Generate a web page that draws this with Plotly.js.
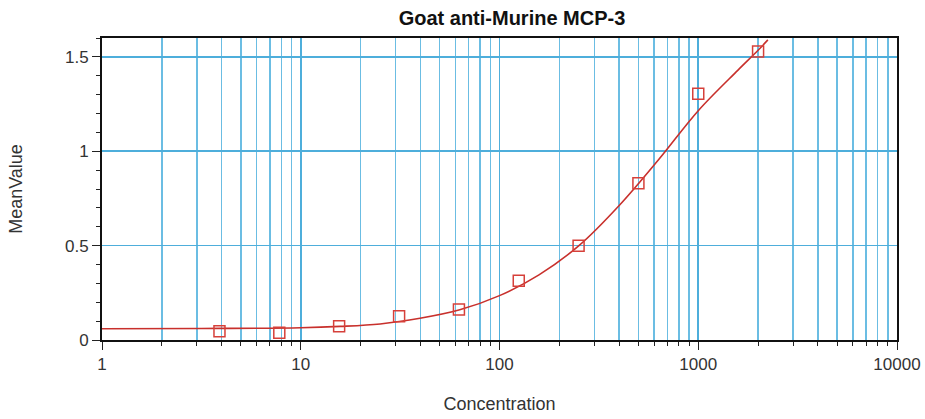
<!DOCTYPE html>
<html>
<head>
<meta charset="utf-8">
<script src="https://cdn.plot.ly/plotly-3.0.1.min.js"></script>
<style>html,body{margin:0;padding:0;background:#fff;}#chart{width:925px;height:419px;}</style>
</head>
<body>
<div id="chart"></div>
<script>
// Measured standards (concentration, mean value)
const concentration = [3.9, 7.8, 15.6, 31.25, 62.5, 125, 250, 500, 1000, 2000];
const meanValue = [0.046, 0.038, 0.073, 0.126, 0.161, 0.314, 0.50, 0.83, 1.305, 1.528];

// Fitted curve
const curveX = [1, 3.16, 10, 15.8, 25.1, 39.8, 63.1, 100, 158, 251, 398, 631, 1000, 1585, 2000, 2240];
const curveY = [0.06, 0.061, 0.065, 0.072, 0.085, 0.115, 0.16, 0.235, 0.345, 0.50, 0.71, 0.955, 1.215, 1.43, 1.535, 1.59];

const xTickVals = [1, 10, 100, 1000, 10000];
const xTickText = ['1', '10', '100', '1000', '10000'];
const yTickVals = [0, 0.5, 1, 1.5];
const yTickText = ['0', '0.5', '1', '1.5'];

const gridBlue = '#4eaedb';
const gridBlueMinor = '#6bbde3';
const fontFam = 'Liberation Sans, Arial, sans-serif';

const traces = [
  {
    x: curveX, y: curveY, type: 'scatter', mode: 'lines',
    line: {color: '#c8302c', width: 1.6, shape: 'spline', smoothing: 1},
    hoverinfo: 'skip', showlegend: false
  },
  {
    x: concentration, y: meanValue, type: 'scatter', mode: 'markers',
    marker: {symbol: 'square-open', size: 11, color: '#d6403a', line: {width: 1.5, color: '#d6403a'}},
    showlegend: false
  }
];

const layout = {
  width: 925, height: 419,
  margin: {l: 102, r: 28, t: 38, b: 79},
  paper_bgcolor: '#fff', plot_bgcolor: '#fff',
  font: {family: fontFam, color: '#333', size: 17},
  title: {
    text: '<b>Goat anti-Murine MCP-3</b>',
    font: {family: fontFam, size: 20, color: '#111'},
    x: 512 / 925, xref: 'container', xanchor: 'center',
    y: 1 - 18 / 419, yref: 'container', yanchor: 'middle'
  },
  xaxis: {
    type: 'log', range: [0, 4],
    tickvals: xTickVals, ticktext: xTickText,
    ticks: 'outside', ticklen: 8, tickwidth: 1, tickcolor: '#222',
    showgrid: true, gridcolor: gridBlue, gridwidth: 1.6,
    showline: true, linecolor: '#111', linewidth: 2, mirror: true,
    zeroline: false,
    tickfont: {size: 17, color: '#333'},
    minor: {dtick: 'D1', ticks: 'outside', ticklen: 4, tickcolor: '#222', showgrid: true, gridcolor: gridBlueMinor, gridwidth: 1.5},
    title: {text: 'Concentration', font: {size: 18, color: '#333'}, standoff: 24}
  },
  yaxis: {
    range: [0, 1.6],
    tickvals: yTickVals, ticktext: yTickText,
    ticks: 'outside', ticklen: 8, tickwidth: 1, tickcolor: '#222',
    showgrid: true, gridcolor: gridBlue, gridwidth: 1.6,
    showline: true, linecolor: '#111', linewidth: 2, mirror: true,
    zeroline: false,
    tickfont: {size: 17, color: '#333'},
    minor: {dtick: 0.1, ticks: 'outside', ticklen: 4, tickcolor: '#222', showgrid: false},
    title: {text: 'MeanValue', font: {size: 18, color: '#333'}, standoff: 38}
  }
};

Plotly.newPlot('chart', traces, layout, {displayModeBar: false, staticPlot: true});
</script>
</body>
</html>
